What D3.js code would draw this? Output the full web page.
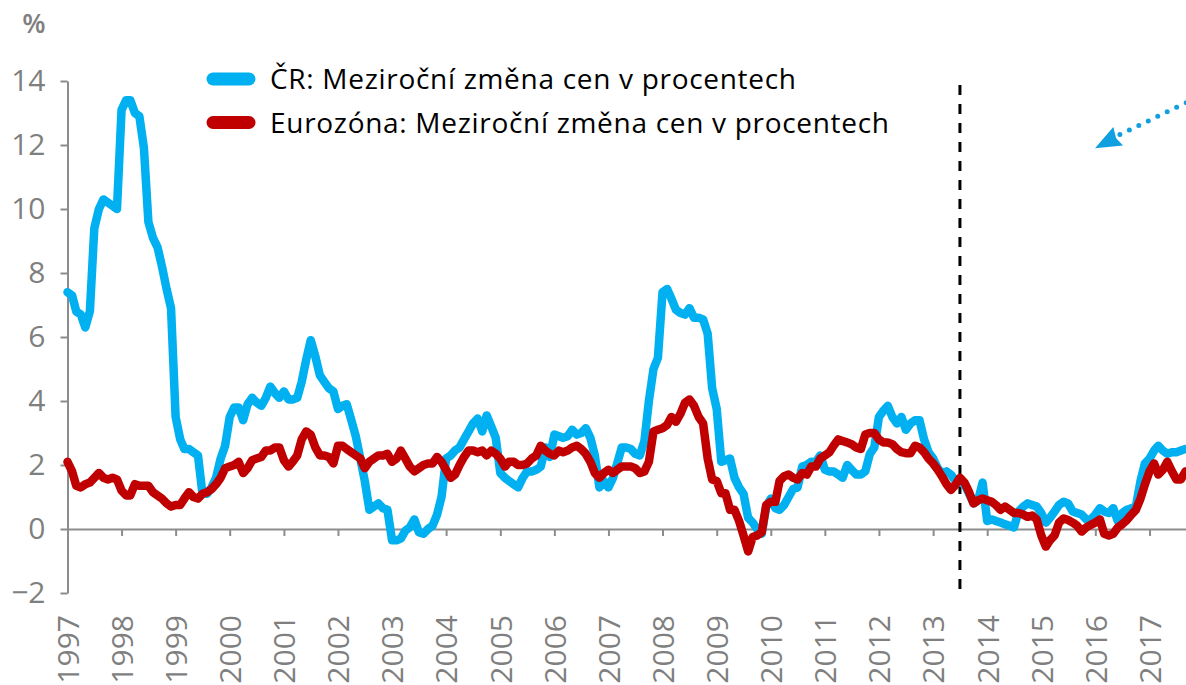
<!DOCTYPE html>
<html>
<head>
<meta charset="utf-8">
<title>Meziroční změna cen</title>
<script src="https://cdn.jsdelivr.net/npm/d3@7"></script>
<style>
  body { margin: 0; background: #fff; }
  #chart { display: block; font-family: "Open Sans", "Noto Sans", sans-serif; }
  .axis path, .axis line { stroke: #8c8c8c; stroke-width: 2; }
  .axis text { fill: #7f7f7f; font-size: 30px; }
  .legend text { fill: #000; font-size: 28px; letter-spacing: 0.7px; }
  .line { fill: none; stroke-width: 8.5; stroke-linejoin: round; stroke-linecap: round; }
</style>
</head>
<body>
<svg id="chart" width="1186" height="685"></svg>
<script>
// monthly year-on-year change, Jan 1997 .. Sep 2017
const startYear = 1997;
const czCpi = [
  7.4, 7.3, 6.8, 6.7, 6.3, 6.8, 9.4, 10.0, 10.3, 10.2, 10.1, 10.0,      // 1997
  13.1, 13.4, 13.4, 13.0, 12.9, 11.9, 9.6, 9.1, 8.8, 8.2, 7.5, 6.9,     // 1998
  3.5, 2.8, 2.5, 2.5, 2.4, 2.3, 1.1, 1.1, 1.3, 1.6, 2.2, 2.6,           // 1999
  3.5, 3.8, 3.8, 3.4, 3.9, 4.1, 3.95, 3.85, 4.1, 4.45, 4.25, 4.1,      // 2000
  4.3, 4.05, 4.05, 4.1, 4.6, 5.3, 5.9, 5.4, 4.8, 4.6, 4.4, 4.3,        // 2001
  3.75, 3.85, 3.9, 3.4, 2.9, 2.2, 1.5, 0.6, 0.7, 0.8, 0.65, 0.6,       // 2002
  -0.35, -0.35, -0.3, -0.05, 0.05, 0.3, -0.1, -0.15, 0.0, 0.1, 0.45, 1.0, // 2003
  2.2, 2.3, 2.45, 2.55, 2.8, 3.05, 3.3, 3.45, 3.05, 3.55, 3.2, 2.85,   // 2004
  1.75, 1.6, 1.5, 1.4, 1.3, 1.6, 1.8, 1.8, 1.85, 1.95, 2.55, 2.25,     // 2005
  2.95, 2.9, 2.85, 2.9, 3.1, 2.95, 3.0, 3.15, 2.85, 2.3, 1.3, 1.5,     // 2006
  1.3, 1.6, 2.05, 2.55, 2.55, 2.5, 2.35, 2.3, 2.75, 4.0, 5.0, 5.35,    // 2007
  7.4, 7.5, 7.2, 6.85, 6.75, 6.7, 6.9, 6.6, 6.6, 6.55, 6.1, 4.4,       // 2008
  3.75, 2.1, 2.15, 2.2, 1.6, 1.3, 1.1, 0.35, 0.2, 0.0, -0.15, 0.7,     // 2009
  0.95, 0.65, 0.6, 0.75, 1.0, 1.25, 1.3, 1.95, 2.0, 2.1, 2.1, 2.3,     // 2010
  1.85, 1.8, 1.8, 1.7, 1.6, 2.0, 1.85, 1.7, 1.7, 1.8, 2.35, 2.55,      // 2011
  3.5, 3.7, 3.85, 3.5, 3.3, 3.5, 3.1, 3.3, 3.4, 3.4, 2.8, 2.4,         // 2012
  2.2, 1.9, 1.75, 1.8, 1.7, 1.5, 1.45, 1.4, 1.1, 0.8, 0.9, 1.45,       // 2013
  0.25, 0.3, 0.25, 0.2, 0.15, 0.1, 0.05, 0.55, 0.7, 0.8, 0.75, 0.7,    // 2014
  0.5, 0.2, 0.35, 0.55, 0.75, 0.85, 0.8, 0.55, 0.5, 0.45, 0.3, 0.3,    // 2015
  0.45, 0.65, 0.55, 0.5, 0.65, 0.25, 0.5, 0.6, 0.65, 0.7, 1.5, 2.05,   // 2016
  2.2, 2.45, 2.6, 2.45, 2.35, 2.4, 2.4, 2.45, 2.5                      // 2017
];
const ezCpi = [
  2.1, 1.8, 1.35, 1.3, 1.4, 1.45, 1.6, 1.75, 1.6, 1.55, 1.6, 1.55,     // 1997
  1.2, 1.05, 1.05, 1.4, 1.35, 1.35, 1.35, 1.15, 1.05, 0.95, 0.8, 0.7,  // 1998
  0.75, 0.75, 0.95, 1.15, 1.0, 0.95, 1.1, 1.15, 1.25, 1.4, 1.6, 1.9,   // 1999
  1.95, 2.0, 2.1, 1.75, 1.9, 2.15, 2.2, 2.25, 2.45, 2.45, 2.55, 2.55,  // 2000
  2.15, 1.95, 2.1, 2.3, 2.8, 3.05, 2.95, 2.55, 2.3, 2.3, 2.25, 2.05,   // 2001
  2.6, 2.6, 2.5, 2.4, 2.3, 2.2, 1.9, 2.1, 2.2, 2.3, 2.3, 2.35,         // 2002
  2.1, 2.2, 2.45, 2.2, 1.95, 1.8, 1.9, 2.0, 2.05, 2.05, 2.25, 2.1,     // 2003
  1.85, 1.6, 1.7, 2.0, 2.25, 2.45, 2.45, 2.4, 2.45, 2.3, 2.45, 2.35,   // 2004
  2.2, 1.95, 2.1, 2.1, 2.0, 2.0, 2.05, 2.2, 2.3, 2.6, 2.45, 2.35,      // 2005
  2.3, 2.45, 2.4, 2.45, 2.55, 2.6, 2.5, 2.35, 2.1, 1.75, 1.6, 1.75,    // 2006
  1.85, 1.75, 1.85, 1.95, 1.95, 1.95, 1.9, 1.75, 1.8, 2.1, 3.05, 3.1,  // 2007
  3.15, 3.25, 3.5, 3.35, 3.6, 3.95, 4.05, 3.85, 3.5, 3.3, 2.2, 1.55,   // 2008
  1.5, 1.12, 1.12, 0.6, 0.6, 0.25, -0.2, -0.7, -0.25, -0.2, -0.1, 0.75, // 2009
  0.85, 0.85, 1.5, 1.65, 1.7, 1.6, 1.55, 1.75, 1.7, 1.95, 1.95, 2.2,   // 2010
  2.3, 2.4, 2.6, 2.8, 2.75, 2.7, 2.65, 2.55, 2.5, 2.95, 3.0, 3.0,      // 2011
  2.8, 2.7, 2.7, 2.65, 2.5, 2.4, 2.37, 2.37, 2.6, 2.55, 2.4, 2.2,      // 2012
  2.05, 1.85, 1.65, 1.4, 1.22, 1.38, 1.6, 1.45, 1.15, 0.8, 0.9, 0.95,  // 2013
  0.9, 0.85, 0.75, 0.6, 0.7, 0.6, 0.5, 0.5, 0.45, 0.38, 0.42, 0.3,     // 2014
  -0.2, -0.55, -0.35, -0.2, 0.2, 0.33, 0.28, 0.2, 0.1, -0.08, 0.05, 0.13, // 2015
  0.2, 0.3, -0.15, -0.2, -0.15, 0.05, 0.15, 0.28, 0.45, 0.6, 0.95, 1.4, // 2016
  1.8, 2.05, 1.7, 1.85, 2.1, 1.8, 1.55, 1.55, 1.8                      // 2017
];
const yTicks = [-2, 0, 2, 4, 6, 8, 10, 12, 14];
const yearTicks = d3.range(1997, 2018);
const seriesNames = ["ČR: Meziroční změna cen v procentech", "Eurozóna: Meziroční změna cen v procentech"];
const seriesColors = ["#00b0f0", "#c00000"];
const breakDate = new Date(2013, 6, 1); // dashed divider

const svg = d3.select("#chart");

const x = d3.scaleTime()
  .domain([new Date(1997, 0, 1), new Date(2018, 0, 1)])
  .range([67.5, 1203.6]);

const y = d3.scaleLinear()
  .domain([-2, 14])
  .range([593, 81]);

const toPoints = values => values.map((v, i) => ({ date: new Date(startYear, i, 1), value: v }));
const series = [toPoints(czCpi), toPoints(ezCpi)];

// y axis
const yAxis = svg.append("g")
  .attr("class", "axis")
  .attr("transform", `translate(${x.range()[0]},0)`)
  .call(d3.axisLeft(y).tickValues(yTicks).tickSize(7).tickSizeOuter(0).tickPadding(15));
yAxis.attr("font-size", null).attr("font-family", null);

// x axis sits on the zero line
const xAxis = svg.append("g")
  .attr("class", "axis")
  .attr("transform", `translate(0,${y(0)})`)
  .call(d3.axisBottom(x)
    .tickValues(yearTicks.map(yr => new Date(yr, 0, 1)))
    .tickFormat(d3.timeFormat("%Y"))
    .tickSize(7).tickSizeOuter(0));
xAxis.attr("font-size", null).attr("font-family", null);
xAxis.selectAll("text")
  .attr("transform", "rotate(-90)")
  .attr("text-anchor", "end")
  .attr("x", -(615 - y(0)))
  .attr("y", 0)
  .attr("dy", "0.36em");

// unit label
svg.append("text")
  .attr("x", 34).attr("y", 33)
  .attr("text-anchor", "middle")
  .attr("fill", "#7f7f7f")
  .attr("font-size", 27)
  .attr("font-weight", 600)
  .text("%");

// dashed divider
svg.append("line")
  .attr("x1", x(breakDate)).attr("x2", x(breakDate))
  .attr("y1", 85).attr("y2", 595)
  .attr("stroke", "#000")
  .attr("stroke-width", 3)
  .attr("stroke-dasharray", "10,9");

const line = d3.line()
  .x(d => x(d.date))
  .y(d => y(d.value));

svg.selectAll(".line")
  .data(series)
  .join("path")
  .attr("class", "line")
  .attr("stroke", (d, i) => seriesColors[i])
  .attr("d", line);

// legend
const legend = svg.append("g").attr("class", "legend");
const legendRows = legend.selectAll("g")
  .data(seriesNames)
  .join("g")
  .attr("transform", (d, i) => `translate(0,${79 + i * 43.5})`);
legendRows.append("line")
  .attr("x1", 213).attr("x2", 249)
  .attr("stroke", (d, i) => seriesColors[i])
  .attr("stroke-width", 13)
  .attr("stroke-linecap", "round");
legendRows.append("text")
  .attr("x", 270)
  .attr("y", 10)
  .text(d => d);

// dotted pointer arrow in the top right corner
const arrow = svg.append("g");
arrow.append("line")
  .attr("x1", 1205).attr("y1", 93.5)
  .attr("x2", 1117).attr("y2", 136)
  .attr("stroke", "#10a0e0")
  .attr("stroke-width", 5)
  .attr("stroke-linecap", "round")
  .attr("stroke-dasharray", "0,10.5");
arrow.append("polygon")
  .attr("points", "1095,148.3 1113.3,127 1116,138 1123,145.5")
  .attr("fill", "#10a0e0");
</script>
</body>
</html>
